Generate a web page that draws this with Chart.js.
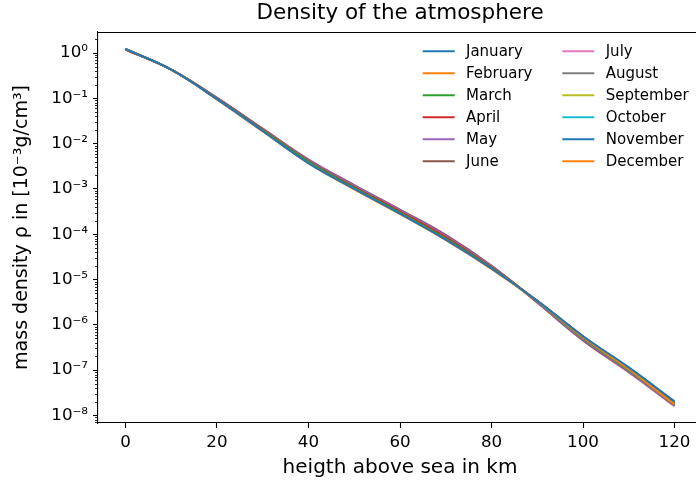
<!DOCTYPE html>
<html><head><meta charset="utf-8">
<script src="https://cdn.jsdelivr.net/npm/chart.js@4.4.0/dist/chart.umd.min.js"></script>
<style>html,body{margin:0;padding:0;overflow:hidden;background:#fff}</style>
</head><body>
<canvas id="c" width="720" height="482" style="display:block;width:720px;height:482px"></canvas>
<script>
// heights in km
const heights = [0, 10, 20, 30, 40, 50, 60, 70, 80, 90, 100, 110, 120];
const months = ['January','February','March','April','May','June','July','August','September','October','November','December'];
const colors = ['#1f77b4','#ff7f0e','#2ca02c','#d62728','#9467bd','#8c564b','#e377c2','#7f7f7f','#bcbd22','#17becf','#1f77b4','#ff7f0e'];
// mass density per month, 10^-3 g/cm^3
const january   = [1.23, 0.43, 0.096, 0.0190, 0.0037, 0.00100, 2.85e-4, 7.6e-5, 1.75e-5, 3.4e-6, 5.6e-7, 1.15e-7, 2.05e-8];
const february  = [1.23, 0.43, 0.095, 0.0188, 0.0037, 0.00099, 2.80e-4, 7.5e-5, 1.72e-5, 3.35e-6, 5.3e-7, 1.05e-7, 1.75e-8];
const march     = [1.22, 0.43, 0.098, 0.0198, 0.0040, 0.00106, 3.00e-4, 8.0e-5, 1.80e-5, 3.3e-6, 5.1e-7, 1.00e-7, 1.80e-8];
const april     = [1.21, 0.43, 0.099, 0.0202, 0.0041, 0.00110, 3.15e-4, 8.5e-5, 1.85e-5, 3.4e-6, 5.6e-7, 1.08e-7, 1.85e-8];
const may       = [1.20, 0.43, 0.101, 0.0208, 0.0043, 0.00116, 3.35e-4, 9.1e-5, 1.95e-5, 3.2e-6, 4.8e-7, 9.5e-8, 1.70e-8];
const june      = [1.19, 0.43, 0.102, 0.0212, 0.0044, 0.00120, 3.45e-4, 9.5e-5, 2.00e-5, 3.1e-6, 4.6e-7, 9.2e-8, 1.65e-8];
const july      = [1.19, 0.43, 0.103, 0.0214, 0.0045, 0.00122, 3.50e-4, 9.7e-5, 2.02e-5, 3.1e-6, 4.5e-7, 9.0e-8, 1.62e-8];
const august    = [1.19, 0.43, 0.102, 0.0211, 0.0044, 0.00120, 3.45e-4, 9.4e-5, 1.98e-5, 3.1e-6, 4.5e-7, 9.0e-8, 1.60e-8];
const september = [1.20, 0.43, 0.100, 0.0205, 0.0042, 0.00113, 3.25e-4, 8.8e-5, 1.90e-5, 3.2e-6, 4.8e-7, 9.6e-8, 1.70e-8];
const october   = [1.21, 0.43, 0.098, 0.0199, 0.0040, 0.00107, 3.05e-4, 8.2e-5, 1.82e-5, 3.3e-6, 5.2e-7, 1.04e-7, 1.85e-8];
const november  = [1.22, 0.43, 0.096, 0.0192, 0.0038, 0.00102, 2.90e-4, 7.8e-5, 1.76e-5, 3.4e-6, 5.5e-7, 1.12e-7, 2.00e-8];
const december  = [1.23, 0.43, 0.095, 0.0188, 0.0037, 0.00099, 2.80e-4, 7.5e-5, 1.72e-5, 3.35e-6, 5.3e-7, 1.05e-7, 1.72e-8];
const series = [january,february,march,april,may,june,july,august,september,october,november,december];

const xTicks = [0, 20, 40, 60, 80, 100, 120];
const yTicks = [1e-8, 1e-7, 1e-6, 1e-5, 1e-4, 1e-3, 1e-2, 1e-1, 1];
const yTickLabels = ['10⁻⁸','10⁻⁷','10⁻⁶','10⁻⁵','10⁻⁴','10⁻³','10⁻²','10⁻¹','10⁰'];

const FONT = 'DejaVu Sans';

const datasets = series.map((vals, i) => ({
  label: months[i],
  data: vals.map((v, j) => ({x: heights[j], y: v})),
  borderColor: colors[i],
  backgroundColor: colors[i],
  borderWidth: 2,
  pointRadius: 0,
  fill: false,
  tension: 0.4
}));

const decorPlugin = {
  id: 'decor',
  afterDraw(chart) {
    const ctx = chart.ctx, ca = chart.chartArea, y = chart.scales.y;
    ctx.save();
    // top spine and right spine
    ctx.strokeStyle = '#000'; ctx.lineWidth = 1.1;
    ctx.beginPath();
    ctx.moveTo(ca.left, Math.round(ca.top) + 0.5); ctx.lineTo(ca.right, Math.round(ca.top) + 0.5);
    ctx.moveTo(ca.right, ca.top); ctx.lineTo(ca.right, ca.bottom);
    ctx.stroke();
    // minor log ticks
    ctx.lineWidth = 0.8;
    ctx.beginPath();
    for (let d = -9; d <= 0; d++) {
      for (let k = 2; k <= 9; k++) {
        const v = k * Math.pow(10, d);
        if (v < y.min || v > y.max) continue;
        const p = Math.round(y.getPixelForValue(v)) + 0.5;
        ctx.moveTo(ca.left, p); ctx.lineTo(ca.left - 3, p);
      }
    }
    ctx.stroke();
    // legend (two columns)
    ctx.font = '15px "' + FONT + '"';
    ctx.textBaseline = 'middle';
    ctx.textAlign = 'left';
    chart.data.datasets.forEach((ds, i) => {
      const col = i < 6 ? 0 : 1;
      const row = i % 6;
      const hx = ca.right - (col === 0 ? 279.3 : 139.7);
      const tx = ca.right - (col === 0 ? 236 : 96.3);
      const ry = ca.top + 19.3 + row * 22;
      ctx.strokeStyle = ds.borderColor; ctx.lineWidth = 2;
      ctx.beginPath(); ctx.moveTo(hx, ry); ctx.lineTo(hx + 32, ry); ctx.stroke();
      ctx.fillStyle = '#000';
      ctx.fillText(ds.label, tx, ry + 1);
    });
    ctx.restore();
  }
};

new Chart(document.getElementById('c'), {
  type: 'line',
  data: { datasets },
  options: {
    responsive: false,
    animation: false,
    devicePixelRatio: 1,
    layout: { padding: { left: 0, right: 18, top: 0, bottom: 0 } },
    plugins: {
      legend: { display: false },
      tooltip: { enabled: false },
      title: {
        display: true, text: 'Density of the atmosphere', color: '#000',
        font: { family: FONT, size: 21.5, weight: 'normal' },
        padding: { top: 1, bottom: 5.2 }, fullSize: false
      }
    },
    scales: {
      x: {
        type: 'linear', min: -6, max: 126,
        afterBuildTicks: s => { s.ticks = xTicks.map(v => ({ value: v })); },
        afterFit: s => { s.height = 59; },
        ticks: { color: '#000', font: { family: FONT, size: 16.7 }, padding: 5, maxRotation: 0, autoSkip: false },
        grid: { drawOnChartArea: false, drawTicks: true, tickLength: 5, color: '#000', tickWidth: 1.1 },
        border: { display: true, color: '#000', width: 1.1 },
        title: { display: true, text: 'heigth above sea in km', color: '#000', font: { family: FONT, size: 20 }, padding: { top: 0, bottom: 2 } }
      },
      y: {
        type: 'logarithmic', min: 6.8e-9, max: 2.91,
        afterBuildTicks: s => { s.ticks = yTicks.map(v => ({ value: v })); },
        afterFit: s => { s.width = 98; },
        ticks: { color: '#000', font: { family: FONT, size: 16.7 }, padding: 5, autoSkip: false,
                 callback: (v, i) => yTickLabels[i] },
        grid: { drawOnChartArea: false, drawTicks: true, tickLength: 5, color: '#000', tickWidth: 1.1 },
        border: { display: true, color: '#000', width: 1.1 },
        title: { display: true, text: 'mass density ρ in [10⁻³g/cm³]', color: '#000', font: { family: FONT, size: 19 }, padding: { top: 11, bottom: 0 } }
      }
    }
  },
  plugins: [decorPlugin]
});
</script>
</body></html>
